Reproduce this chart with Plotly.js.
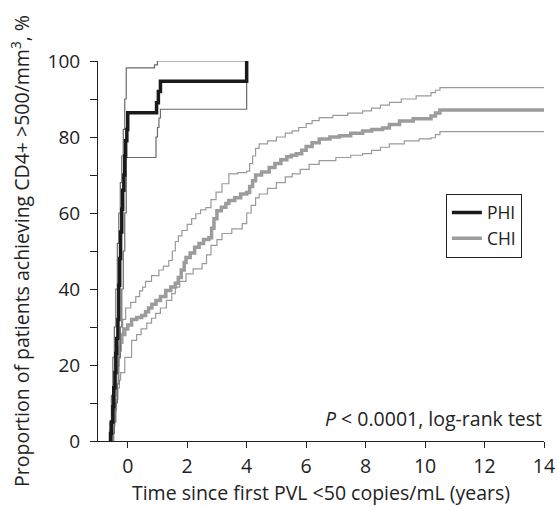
<!DOCTYPE html>
<html>
<head>
<meta charset="utf-8">
<script src="https://cdn.plot.ly/plotly-3.0.1.min.js"></script>
<style>html,body{margin:0;padding:0;background:#fff;}#chart{width:557px;height:507px;}</style>
</head>
<body>
<div id="chart"></div>
<script>
// PHI Kaplan-Meier estimate and 95% CI
const phiTime = [-0.6, -0.58, -0.55, -0.5, -0.47, -0.43, -0.4, -0.37, -0.33, -0.3, -0.27, -0.24, -0.2, -0.17, -0.13, -0.1, -0.07, -0.03, 0, 0.97, 1.03, 1.1, 4.0, 4.0];
const phiValue = [0, 2, 5, 9, 14, 18, 23, 27, 32, 41, 48, 55, 61, 66, 70, 75, 79, 82, 86.4, 89, 92, 94.7, 94.7, 100];
const phiUpperTime = [-0.62, -0.6, -0.55, -0.5, -0.45, -0.4, -0.35, -0.3, -0.25, -0.2, -0.15, -0.1, -0.05, 0.9, 1.0, 4.0];
const phiUpperValue = [0, 5, 12, 22, 30, 40, 52, 60, 68, 75, 82, 90, 98.2, 99, 100, 100];
const phiLowerTime = [-0.55, -0.5, -0.45, -0.4, -0.35, -0.3, -0.25, -0.2, -0.15, -0.1, -0.05, 0.95, 1.0, 1.05, 1.1, 4.0, 4.0];
const phiLowerValue = [0, 2, 5, 10, 15, 22, 30, 40, 50, 60, 74.6, 80, 82.5, 85, 87.3, 87.3, 100];

// CHI Kaplan-Meier estimate and 95% CI
const chiTime = [-0.55, -0.52, -0.5, -0.47, -0.45, -0.42, -0.4, -0.37, -0.33, -0.3, -0.25, -0.2, -0.1, 0.0, 0.13, 0.3, 0.47, 0.6, 0.7, 0.81, 0.95, 1.1, 1.28, 1.45, 1.6, 1.7, 1.8, 1.9, 1.96, 2.1, 2.25, 2.4, 2.55, 2.73, 2.82, 2.9, 3.0, 3.15, 3.3, 3.4, 3.6, 3.8, 4.0, 4.1, 4.2, 4.3, 4.5, 4.76, 4.95, 5.15, 5.35, 5.5, 5.67, 5.85, 6.0, 6.2, 6.44, 6.8, 7.12, 7.5, 7.9, 8.2, 8.57, 8.8, 9.14, 9.6, 10.2, 10.35, 10.5, 14.0];
const chiValue = [0, 3, 6, 9, 12, 15, 18, 20, 22, 24, 26, 28, 29.5, 30.5, 32, 32.5, 33, 34, 35, 36, 37, 38, 39.6, 40.5, 41.5, 43, 45, 47, 48.3, 49.5, 51, 52, 53, 53.5, 56, 58.5, 60.6, 61.5, 62.5, 63.3, 64, 65, 65.4, 67, 68.5, 70, 70.8, 72, 73, 74, 74.8, 75.2, 75.6, 76.5, 77.5, 78.5, 79.5, 80, 80.3, 81, 81.6, 82, 82.4, 83.3, 84.2, 84.8, 85.5, 86.3, 87.1, 87.1];
const chiUpperTime = [-0.57, -0.53, -0.5, -0.46, -0.42, -0.38, -0.34, -0.3, -0.24, -0.17, -0.07, 0.1, 0.27, 0.4, 0.5, 0.6, 0.8, 1.05, 1.2, 1.38, 1.5, 1.6, 1.7, 1.82, 2.0, 2.15, 2.29, 2.45, 2.63, 2.8, 2.97, 3.17, 3.4, 3.7, 4.0, 4.1, 4.2, 4.3, 4.42, 4.7, 5.0, 5.3, 5.53, 5.75, 6.0, 6.2, 6.44, 6.9, 7.4, 7.9, 8.2, 8.5, 8.8, 9.2, 9.7, 10.2, 10.35, 10.5, 14.0];
const chiUpperValue = [0, 4, 8, 12, 16, 19, 22, 25, 28, 32, 35, 36.5, 38, 39.5, 40.5, 42, 43.5, 45, 46, 47.5, 50, 52.5, 54, 55.4, 57, 58.5, 59.8, 60.8, 61.4, 63.5, 65.5, 67.7, 70.3, 70.6, 71, 73, 75, 77, 78.2, 79, 80, 81, 81.6, 82.5, 83.5, 84.3, 85.1, 85.7, 86.3, 86.9, 87.6, 88.4, 89.1, 90, 90.8, 91.7, 92.3, 93, 93];
const chiLowerTime = [-0.5, -0.47, -0.43, -0.38, -0.33, -0.28, -0.24, -0.1, 0.13, 0.3, 0.45, 0.64, 0.8, 0.94, 1.1, 1.3, 1.48, 1.6, 1.75, 1.96, 2.2, 2.5, 2.65, 2.8, 3.0, 3.17, 3.5, 3.85, 4.0, 4.15, 4.3, 4.42, 4.7, 5.0, 5.3, 5.53, 5.8, 6.1, 6.44, 7.0, 7.5, 7.9, 8.2, 8.5, 8.8, 9.3, 9.8, 10.2, 10.35, 10.5, 14.0];
const chiLowerValue = [0, 4, 8, 11, 14, 16, 18, 22, 26.5, 28, 29.5, 31, 32.3, 33.6, 35, 37, 38.8, 40.5, 42, 44, 45.3, 46.7, 49, 51.5, 53, 54.6, 55.8, 57.2, 60, 62, 64, 65, 66.5, 68, 69.5, 70.3, 71.5, 72.8, 73.8, 74.6, 75.2, 75.6, 76.5, 77.3, 78.2, 79, 79.5, 79.8, 80.6, 81.4, 81.4];

const yTickVals = [0, 10, 20, 30, 40, 50, 60, 70, 80, 90, 100];
const yTickText = ['0', '', '20', '', '40', '', '60', '', '80', '', '100'];
const xTickVals = [0, 2, 4, 6, 8, 10, 12, 14];

const FONT = '"Open Sans", sans-serif';
const TXT = '#222';

const traces = [
  {x: chiLowerTime, y: chiLowerValue, mode: 'lines', line: {shape: 'hv', color: '#9a9a9a', width: 1.2}, showlegend: false, hoverinfo: 'skip'},
  {x: chiUpperTime, y: chiUpperValue, mode: 'lines', line: {shape: 'hv', color: '#9a9a9a', width: 1.2}, showlegend: false, hoverinfo: 'skip'},
  {x: chiTime, y: chiValue, mode: 'lines', name: 'CHI', line: {shape: 'hv', color: '#9c9c9c', width: 3.5}},
  {x: phiLowerTime, y: phiLowerValue, mode: 'lines', line: {shape: 'hv', color: '#6a6a6a', width: 1.2}, showlegend: false, hoverinfo: 'skip'},
  {x: phiUpperTime, y: phiUpperValue, mode: 'lines', line: {shape: 'hv', color: '#6a6a6a', width: 1.2}, showlegend: false, hoverinfo: 'skip'},
  {x: phiTime, y: phiValue, mode: 'lines', name: 'PHI', line: {shape: 'hv', color: '#1a1a1a', width: 3.5}}
];

const layout = {
  width: 557, height: 507,
  margin: {l: 98, r: 13, t: 61, b: 66, pad: 0},
  paper_bgcolor: '#fff', plot_bgcolor: '#fff',
  font: {family: FONT, color: TXT, size: 19},
  showlegend: true,
  legend: {
    x: 0.78, y: 0.651, xanchor: 'left', yanchor: 'top',
    bordercolor: '#222', borderwidth: 1, bgcolor: '#fff',
    font: {family: FONT, size: 17.5, color: TXT},
    traceorder: 'reversed', itemwidth: 30, tracegroupgap: 0
  },
  xaxis: {
    range: [-1, 14], showgrid: false, zeroline: false,
    showline: true, linecolor: '#222', linewidth: 1,
    ticks: 'outside', ticklen: 6, tickcolor: '#222', tickwidth: 1,
    ticklabelstandoff: 2,
    tickvals: xTickVals, tickfont: {family: FONT, size: 19.5, color: TXT},
    title: {text: 'Time since first PVL <50 copies/mL (years)', font: {family: FONT, size: 19.5, color: TXT}, standoff: 4}
  },
  yaxis: {
    range: [0, 100], showgrid: false, zeroline: false,
    showline: true, linecolor: '#222', linewidth: 1,
    ticks: 'outside', ticklen: 7, tickcolor: '#222', tickwidth: 1,
    ticklabelstandoff: 6,
    tickvals: yTickVals, ticktext: yTickText, tickfont: {family: FONT, size: 19, color: TXT},
    title: {text: 'Proportion of patients achieving CD4+ >500/mm<sup>3</sup>, %', font: {family: FONT, size: 19.5, color: TXT}, standoff: 12}
  },
  annotations: [{
    xref: 'paper', yref: 'paper', x: 1, y: 0.06, xanchor: 'right', yanchor: 'middle',
    text: '<i>P</i> < 0.0001, log-rank test', showarrow: false,
    font: {family: FONT, size: 19.5, color: TXT}
  }]
};

Plotly.newPlot('chart', traces, layout, {staticPlot: true, displayModeBar: false});
</script>
</body>
</html>
